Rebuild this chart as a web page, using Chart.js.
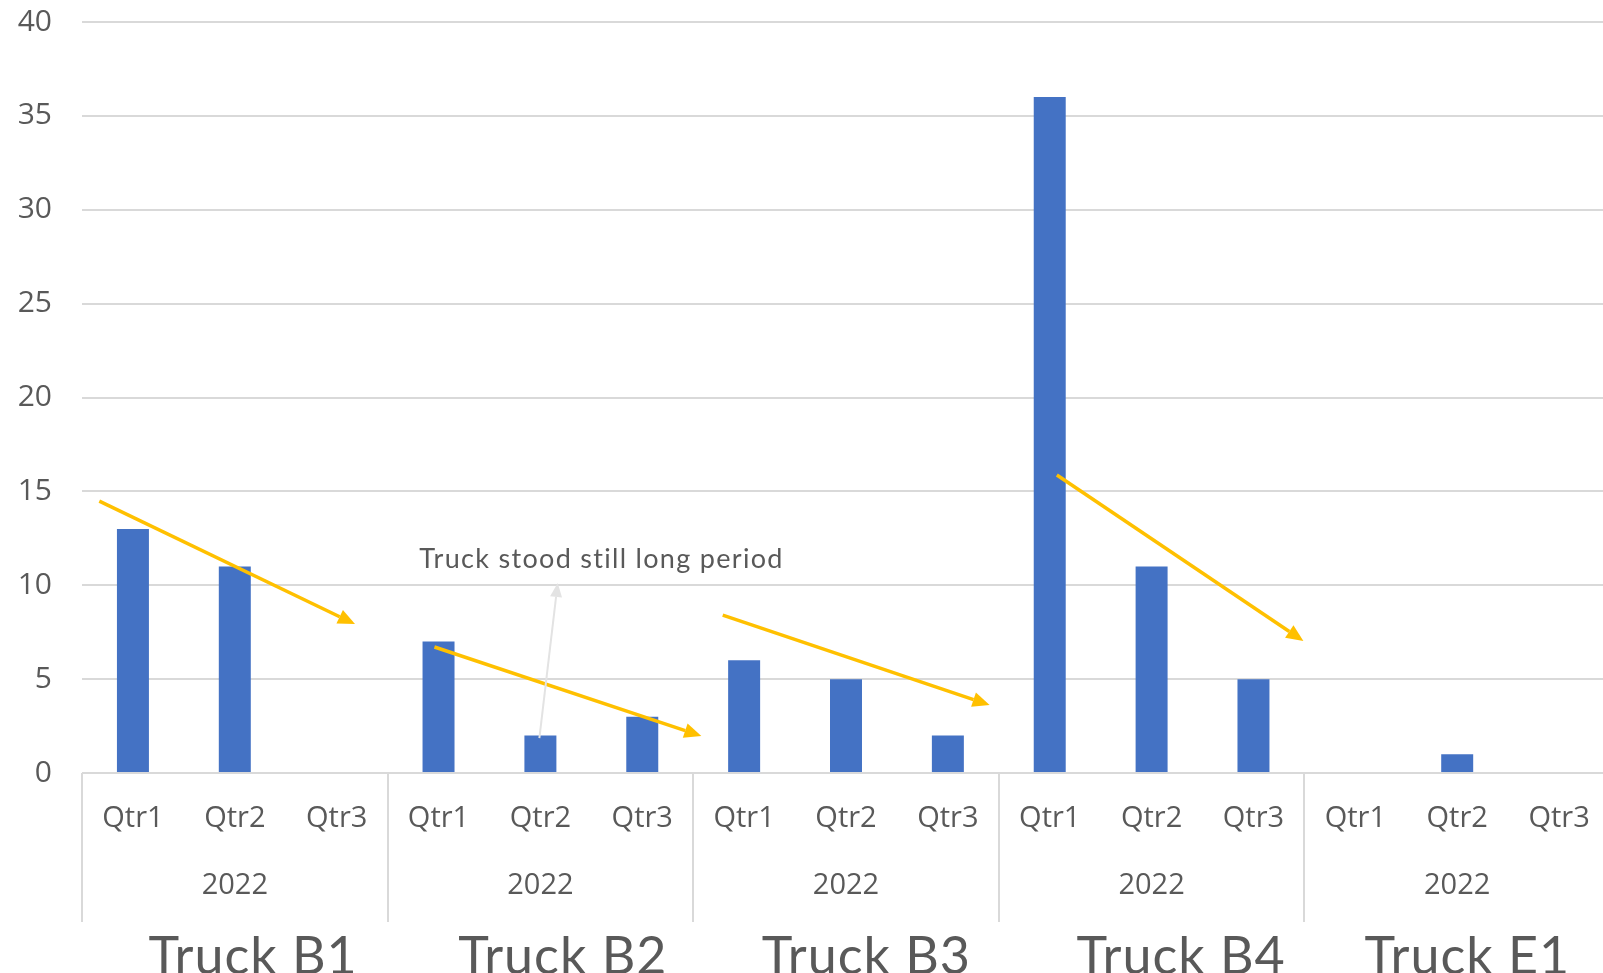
<!DOCTYPE html>
<html>
<head>
<meta charset="utf-8">
<script src="https://cdn.jsdelivr.net/npm/chart.js@4"></script>
<style>
  html, body { margin: 0; padding: 0; background: #ffffff; overflow: hidden; }
  #wrap { width: 1610px; height: 973px; }
</style>
</head>
<body>
<div id="wrap"><canvas id="c" width="1610" height="973"></canvas></div>
<script>
// ---- data ----
const quarters = ['Qtr1','Qtr2','Qtr3','Qtr1','Qtr2','Qtr3','Qtr1','Qtr2','Qtr3','Qtr1','Qtr2','Qtr3','Qtr1','Qtr2','Qtr3'];
const years = ['2022','2022','2022','2022','2022'];
const trucks = ['Truck B1','Truck B2','Truck B3','Truck B4','Truck E1'];
const values = [13, 11, 0, 7, 2, 3, 6, 5, 2, 36, 11, 5, 0, 1, 0];
const yMin = 0, yMax = 40, yStep = 5;

// annotations in data coordinates (x = category index, y = value)
const trendArrows = [
  [-0.33, 14.48, 2.18, 7.93],
  [2.96, 6.71, 5.58, 1.97],
  [5.79, 8.41, 8.41, 3.62],
  [9.07, 15.87, 11.49, 7.03]
];
const noteArrow = [3.99, 1.86, 4.17, 10.12];
const noteText = 'Truck stood still long period';
const notePos = [4.6, 11.4];
const truckLabelPos = [1.18, 4.22, 7.20, 10.29, 13.10];

const TEXT = '#595959';
const GRID = '#d9d9d9';

function drawArrow(ctx, x0, y0, x1, y1, color, lw, hl, hw) {
  const ang = Math.atan2(y1 - y0, x1 - x0);
  const bx = x1 - hl * Math.cos(ang), by = y1 - hl * Math.sin(ang);
  ctx.save();
  ctx.strokeStyle = color; ctx.fillStyle = color; ctx.lineWidth = lw; ctx.lineCap = 'butt';
  ctx.beginPath(); ctx.moveTo(x0, y0); ctx.lineTo(bx, by); ctx.stroke();
  ctx.beginPath();
  ctx.moveTo(x1, y1);
  ctx.lineTo(bx + hw / 2 * Math.sin(ang), by - hw / 2 * Math.cos(ang));
  ctx.lineTo(bx - hw / 2 * Math.sin(ang), by + hw / 2 * Math.cos(ang));
  ctx.closePath(); ctx.fill();
  ctx.restore();
}

const extras = {
  id: 'extras',
  afterDraw(chart) {
    const ctx = chart.ctx;
    const xs = chart.scales.x, ys = chart.scales.y;
    const area = chart.chartArea;
    const cw = xs.getPixelForValue(1) - xs.getPixelForValue(0);
    ctx.save();
    // group separators
    ctx.strokeStyle = GRID; ctx.lineWidth = 2;
    for (let g = 0; g <= years.length; g++) {
      const x = Math.round(xs.getPixelForValue(3 * g) - cw / 2);
      ctx.beginPath(); ctx.moveTo(x, area.bottom); ctx.lineTo(x, area.bottom + 149); ctx.stroke();
    }
    // year labels
    ctx.fillStyle = TEXT;
    ctx.font = '29px "Open Sans"';
    ctx.textAlign = 'center'; ctx.textBaseline = 'middle';
    years.forEach((y, g) => ctx.fillText(y, xs.getPixelForValue(3 * g + 1), area.bottom + 113));
    // truck labels
    ctx.font = '52px Lato';
    try { ctx.letterSpacing = '1px'; } catch (e) {}
    ctx.textBaseline = 'alphabetic';
    trucks.forEach((t, g) => ctx.fillText(t, xs.getPixelForValue(truckLabelPos[g]), area.bottom + 201));
    try { ctx.letterSpacing = '0px'; } catch (e) {}
    // trend arrows
    trendArrows.forEach(a => drawArrow(ctx,
      xs.getPixelForValue(a[0]), ys.getPixelForValue(a[1]),
      xs.getPixelForValue(a[2]), ys.getPixelForValue(a[3]),
      '#FFC000', 3.5, 17, 15));
    // note arrow
    drawArrow(ctx,
      xs.getPixelForValue(noteArrow[0]), ys.getPixelForValue(noteArrow[1]),
      xs.getPixelForValue(noteArrow[2]), ys.getPixelForValue(noteArrow[3]),
      '#e3e3e3', 2, 14, 12);
    // note text
    ctx.font = '27px Lato';
    try { ctx.letterSpacing = '1.3px'; } catch (e) {}
    ctx.textAlign = 'center'; ctx.textBaseline = 'middle';
    ctx.fillStyle = TEXT;
    ctx.fillText(noteText, xs.getPixelForValue(notePos[0]), ys.getPixelForValue(notePos[1]));
    ctx.restore();
  }
};

new Chart(document.getElementById('c'), {
  type: 'bar',
  data: {
    labels: quarters,
    datasets: [{
      data: values,
      backgroundColor: '#4472C4',
      borderWidth: 0,
      barPercentage: 0.314,
      categoryPercentage: 1.0
    }]
  },
  options: {
    responsive: false,
    animation: false,
    events: [],
    layout: { padding: { top: 22, right: 0, left: 0, bottom: 0 } },
    plugins: { legend: { display: false }, tooltip: { enabled: false }, title: { display: false } },
    scales: {
      x: {
        type: 'category',
        offset: true,
        grid: { display: false, drawTicks: false },
        border: { display: false },
        ticks: {
          color: TEXT,
          font: { family: '"Open Sans"', size: 29 },
          padding: 28,
          maxRotation: 0,
          autoSkip: false
        },
        afterFit(scale) { scale.height = 200; scale.paddingLeft = 0; scale.paddingRight = 0; }
      },
      y: {
        min: yMin, max: yMax,
        grid: { color: GRID, lineWidth: 2, drawTicks: false },
        border: { display: false },
        ticks: {
          stepSize: yStep,
          color: TEXT,
          font: { family: '"Open Sans"', size: 30 },
          padding: 30
        },
        afterFit(scale) { scale.width = 82; scale.paddingTop = 0; scale.paddingBottom = 0; }
      }
    }
  },
  plugins: [extras]
});
</script>
</body>
</html>
